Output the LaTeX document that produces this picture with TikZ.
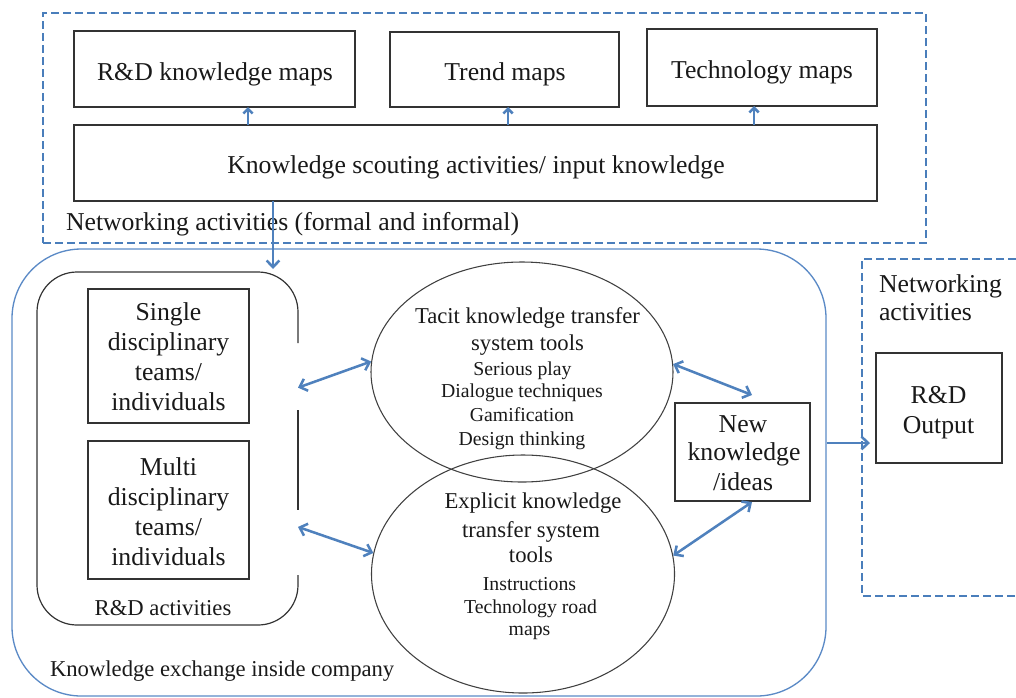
\documentclass[tikz,border=0pt]{standalone}
\usepackage{fontspec}
\setmainfont{Liberation Serif}
\usetikzlibrary{arrows.meta,shapes.geometric,calc}
\definecolor{ublue}{HTML}{4A7EBB}
\definecolor{lblue}{HTML}{5B8AC6}
\definecolor{ablue}{HTML}{4F81BD}
\newcommand\fA{\fontsize{19.3pt}{22pt}\selectfont}
\newcommand\fB{\fontsize{17pt}{20pt}\selectfont}
\newcommand\fC{\fontsize{14.8pt}{17pt}\selectfont}
\newcommand\lbl[5]{\node[txt] (#1) at (#2,#3) {#4#5};}
\begin{document}
\begin{tikzpicture}[x=0.75pt,y=-0.75pt,
 bx/.style 2 args={draw=black!80,line width=1pt,minimum width=#1*0.75pt,minimum height=#2*0.75pt,inner sep=0pt,outer sep=0pt},
 ell/.style 2 args={ellipse,draw=black!75,line width=0.8pt,minimum width=#1*0.75pt,minimum height=#2*0.75pt,inner sep=0pt},
 txt/.style={anchor=base,inner sep=0pt,outer sep=0pt,text=black!90},
 txtw/.style={anchor=base west,inner sep=0pt,outer sep=0pt,text=black!90},
 dbox/.style={draw=ublue,line width=1pt,dash pattern=on 6pt off 3pt},
 arr/.style={draw=ablue,line width=1.9pt,-{Straight Barb[length=5pt,width=9.5pt]}},
 darr/.style={draw=ablue,line width=1.9pt,{Straight Barb[length=5pt,width=9.5pt]}-{Straight Barb[length=5pt,width=9.5pt]}},
 sarr/.style={draw=ablue,line width=1.9pt,-{Straight Barb[length=3.5pt,width=7pt]}}]
\useasboundingbox (0,0) rectangle (1016,697);

% top networking area
\node[dbox,minimum width=883*0.75pt,minimum height=230*0.75pt,inner sep=0pt] (net) at (484.5,128) {};
\node[bx={281}{76}] (rdmap) at (214.5,69) {};
\node[bx={229}{75}] (trend) at (504.5,69.5) {};
\node[bx={230}{77}] (tech) at (762,67.5) {};
\node[bx={803}{76}] (scout) at (475.5,163) {};
\lbl{trdmap}{215}{80}{\fA}{R\&D knowledge maps}
\lbl{ttrend}{505}{80}{\fA}{Trend maps}
\lbl{ttech}{762}{78}{\fA}{Technology maps}
\lbl{tscout}{476}{173}{\fA}{Knowledge scouting activities/ input knowledge}
\node[txtw] (tnet) at (66,230) {\fA Networking activities (formal and informal)};

\draw[sarr] ($(scout.north)+(-227.5,0)$) -- ($(rdmap.south)+(33.5,0)$);
\draw[sarr] ($(scout.north)+(32.5,0)$) -- ($(trend.south)+(3.5,0)$);
\draw[sarr] ($(scout.north)+(278.5,0)$) -- ($(tech.south)+(-8,0)$);

% company area
\node[draw=lblue,line width=1pt,rounded corners=52pt,minimum width=814*0.75pt,minimum height=447*0.75pt,inner sep=0pt] (company) at (419,472.5) {};
\node[txtw] (tcomp) at (50,676) {\fB Knowledge exchange inside company};

% R&D activities box (drawn with gaps)
\node[bx={261}{353},draw=none] (rnd) at (167.5,448.5) {};
\draw[black!80,line width=0.9pt,rounded corners=30pt] ($(rnd.north east)+(0,71)$) -- (rnd.north east) -- (rnd.north west) -- (rnd.south west) -- (rnd.south east) -- ($(rnd.south east)+(0,-50)$);
\draw[black!80,line width=0.9pt] ($(rnd.east)+(0,-38.5)$) -- ($(rnd.east)+(0,61.5)$);
\lbl{trnd}{163}{615}{\fB}{R\&D activities}

\node[bx={161}{134}] (single) at (168.5,356) {};
\lbl{ts1}{168.5}{320}{\fA}{Single}
\lbl{ts2}{168.5}{350}{\fA}{disciplinary}
\lbl{ts3}{168.5}{380}{\fA}{teams/}
\lbl{ts4}{168.5}{410}{\fA}{individuals}

\node[bx={161}{138}] (multi) at (168.5,510) {};
\lbl{tm1}{168.5}{475}{\fA}{Multi}
\lbl{tm2}{168.5}{505}{\fA}{disciplinary}
\lbl{tm3}{168.5}{535}{\fA}{teams/}
\lbl{tm4}{168.5}{565}{\fA}{individuals}

% ellipses
\node[ell={302}{220}] (tacit) at (522,372) {};
\node[ell={303}{238}] (explicit) at (523,574) {};
\lbl{tt1}{527.5}{323}{\fB}{Tacit knowledge transfer}
\lbl{tt2}{527.5}{350}{\fB}{system tools}
\lbl{tt3}{522.5}{375}{\fC}{Serious play}
\lbl{tt4}{522}{397}{\fC}{Dialogue techniques}
\lbl{tt5}{522}{421}{\fC}{Gamification}
\lbl{tt6}{522}{445}{\fC}{Design thinking}
\lbl{te1}{533}{508}{\fB}{Explicit knowledge}
\lbl{te2}{531}{537}{\fB}{transfer system}
\lbl{te3}{531}{562}{\fB}{tools}
\lbl{te4}{529.5}{590}{\fC}{Instructions}
\lbl{te5}{530.5}{613}{\fC}{Technology road}
\lbl{te6}{529.5}{635}{\fC}{maps}

% new knowledge
\node[bx={135}{98}] (newk) at (742.5,452) {};
\lbl{tn1}{743}{432}{\fA}{New}
\lbl{tn2}{744}{460}{\fA}{knowledge}
\lbl{tn3}{743}{490}{\fA}{/ideas}

% right networking area
\draw[dbox] (1016,259) -- (862,259) -- (862,596) -- (1016,596);
\node[txtw] (tro1) at (879,292) {\fA Networking};
\node[txtw] (tro2) at (879,320) {\fA activities};
\node[bx={126}{110}] (output) at (939,408) {};
\lbl{to1}{938.5}{403}{\fA}{R\&D}
\lbl{to2}{938.5}{433}{\fA}{Output}
\coordinate (outin) at (870,443);

% connectors
\draw[arr] ($(scout.south)+(-202.5,0)$) -- ($(rnd.north)+(105.5,-3)$);
\draw[darr] (rnd.25) -- (tacit.176);
\draw[darr] (rnd.-31) -- (explicit.172);
\draw[darr] (tacit.3.5) -- ($(newk.north)+(9.5,-8)$);
\draw[darr] (explicit.7) -- ($(newk.south)+(9.5,1)$);
\draw[arr] ($(company.east)+(0,-29.5)$) -- (outin);
\end{tikzpicture}
\end{document}
